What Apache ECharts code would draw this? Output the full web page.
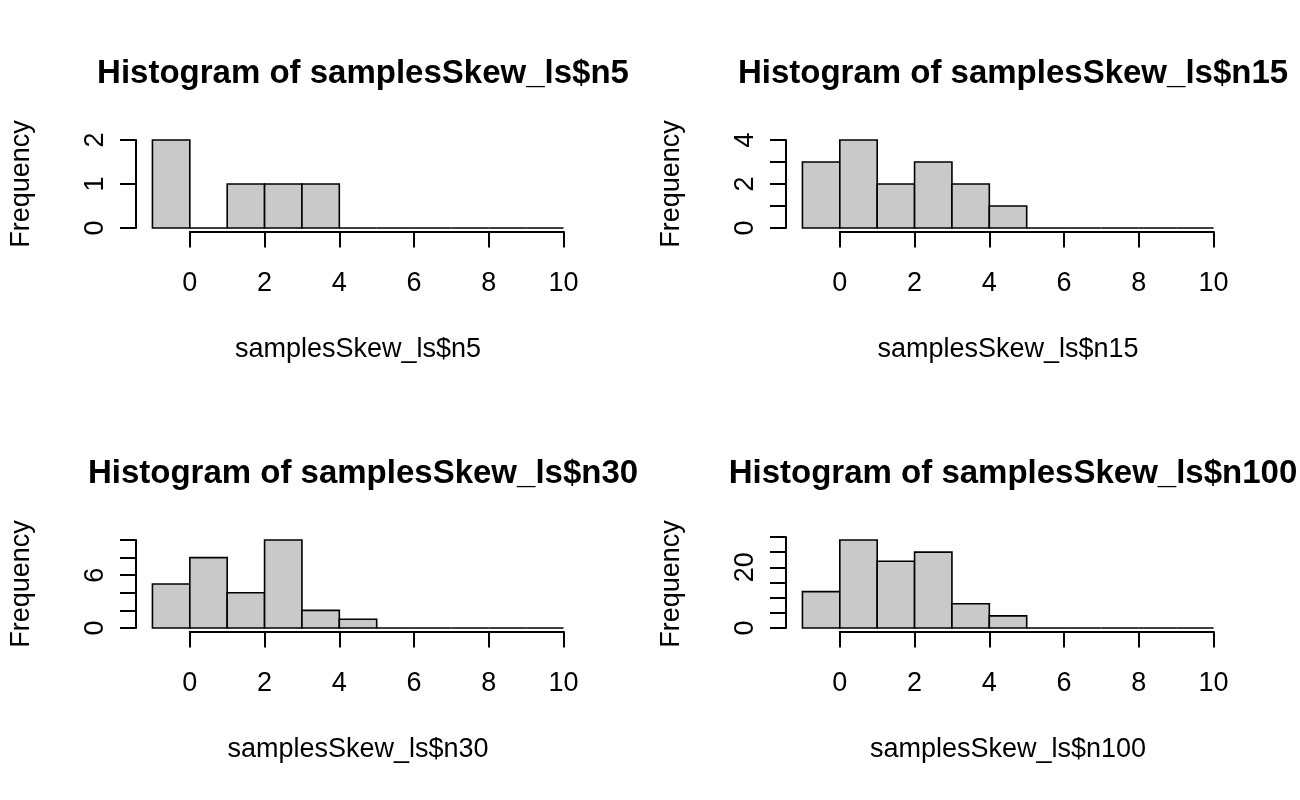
<!DOCTYPE html>
<html>
<head>
    <meta charset="utf-8">
    <title>Histograms of samplesSkew_ls</title>
    <script src="https://cdn.jsdelivr.net/npm/echarts@6/dist/echarts.min.js"></script>
    <style>
        html, body { margin: 0; background: #fff; }
        #main { width: 1300px; height: 800px; }
    </style>
</head>
<body>
<div id="main"></div>
<script type="text/javascript">
    // bin edges shared by all four histograms
    var breaks = [-1, 0, 1, 2, 3, 4, 5, 6, 7, 8, 9, 10];

    // counts per bin
    var countsN5   = [2, 0, 1, 1, 1, 0, 0, 0, 0, 0, 0];
    var countsN15  = [3, 4, 2, 3, 2, 1, 0, 0, 0, 0, 0];
    var countsN30  = [5, 8, 4, 10, 2, 1, 0, 0, 0, 0, 0];
    var countsN100 = [12, 29, 22, 25, 8, 4, 0, 0, 0, 0, 0];

    // x axis ticks
    var xTickMin = 0, xTickMax = 10, xTickStep = 2;

    // y axis ticks and which labels R kept
    var yTicksN5   = { max: 2,  step: 1, shown: [0, 1, 2] };
    var yTicksN15  = { max: 4,  step: 1, shown: [0, 2, 4] };
    var yTicksN30  = { max: 10, step: 2, shown: [0, 6] };
    var yTicksN100 = { max: 30, step: 5, shown: [0, 20] };

    var names = ['samplesSkew_ls$n5', 'samplesSkew_ls$n15', 'samplesSkew_ls$n30', 'samplesSkew_ls$n100'];

    var panels = [
        { name: names[0], counts: countsN5,   yt: yTicksN5,   ox: 0,   oy: 0 },
        { name: names[1], counts: countsN15,  yt: yTicksN15,  ox: 650, oy: 0 },
        { name: names[2], counts: countsN30,  yt: yTicksN30,  ox: 0,   oy: 400 },
        { name: names[3], counts: countsN100, yt: yTicksN100, ox: 650, oy: 400 }
    ];

    var FONT = "'Liberation Sans', Arial, Helvetica, sans-serif";
    var PLOT_L = 136, PLOT_T = 136.5, PLOT_W = 444, PLOT_H = 95;

    var grids = [], xAxes = [], yAxes = [], series = [], titles = [], texts = [];

    panels.forEach(function (p) {
        var xmin = breaks[0], xmax = breaks[breaks.length - 1];
        var xpad = (xmax - xmin) * 0.04;
        var ymax = Math.max.apply(null, p.counts);
        var ypad = ymax * 0.04;
        var pxX = PLOT_W / (xmax - xmin + 2 * xpad);
        var pxY = PLOT_H / (ymax + 2 * ypad);
        var left = p.ox + PLOT_L, top = p.oy + PLOT_T;
        var zeroY = top + PLOT_H - ypad * pxY;

        // data grid
        var gi = grids.length;
        grids.push({ left: left, top: top, width: PLOT_W, height: PLOT_H });
        xAxes.push({ gridIndex: gi, type: 'value', min: xmin - xpad, max: xmax + xpad, show: false });
        yAxes.push({ gridIndex: gi, type: 'value', min: -ypad, max: ymax + ypad, show: false });

        var data = p.counts.map(function (c, i) { return [breaks[i], breaks[i + 1], c]; });
        series.push({
            type: 'custom',
            xAxisIndex: xAxes.length - 1,
            yAxisIndex: yAxes.length - 1,
            data: data,
            silent: true,
            renderItem: function (params, api) {
                var a = api.coord([api.value(0), api.value(2)]);
                var b = api.coord([api.value(1), 0]);
                return {
                    type: 'rect',
                    shape: { x: a[0], y: a[1], width: b[0] - a[0], height: b[1] - a[1] },
                    style: { fill: '#c9c9c9', stroke: '#000', lineWidth: 1.6 }
                };
            }
        });

        // x axis drawn from first to last tick, at the bottom of the plot region
        var gx = grids.length;
        grids.push({
            left: left + (xTickMin - (xmin - xpad)) * pxX,
            top: top,
            width: (xTickMax - xTickMin) * pxX,
            height: PLOT_H
        });
        xAxes.push({
            gridIndex: gx, type: 'value', min: xTickMin, max: xTickMax, interval: xTickStep,
            axisLine: { show: true, onZero: false, lineStyle: { color: '#000', width: 2 } },
            axisTick: { show: true, inside: false, length: 16, lineStyle: { color: '#000', width: 2 } },
            axisLabel: { margin: 39, fontFamily: FONT, fontSize: 27, color: '#000' },
            splitLine: { show: false }
        });
        yAxes.push({ gridIndex: gx, type: 'value', show: false });

        // y axis drawn from 0 to last tick, at the left of the plot region
        var gy = grids.length;
        var yTop = zeroY - p.yt.max * pxY;
        grids.push({ left: left, top: yTop, width: PLOT_W, height: zeroY - yTop });
        xAxes.push({ gridIndex: gy, type: 'value', show: false });
        var shown = p.yt.shown;
        yAxes.push({
            gridIndex: gy, type: 'value', min: 0, max: p.yt.max, interval: p.yt.step,
            axisLine: { show: true, lineStyle: { color: '#000', width: 2 } },
            axisTick: { show: true, inside: false, length: 16, lineStyle: { color: '#000', width: 2 } },
            axisLabel: {
                margin: 27, rotate: 90, fontFamily: FONT, fontSize: 27, color: '#000',
                formatter: function (v) { return shown.indexOf(v) >= 0 ? String(v) : ''; }
            },
            splitLine: { show: false }
        });

        titles.push({
            text: 'Histogram of ' + p.name,
            left: left + PLOT_W / 2, top: p.oy + 52,
            textAlign: 'center',
            textStyle: { fontFamily: FONT, fontSize: 33, fontWeight: 'bold', color: '#000' }
        });

        // x axis title, centred under the plot region
        texts.push({
            type: 'text',
            x: left + PLOT_W / 2, y: p.oy + 350,
            style: {
                text: p.name, fontFamily: FONT, fontSize: 27, fill: '#000',
                align: 'center', verticalAlign: 'middle'
            }
        });

        // y axis title
        texts.push({
            type: 'text',
            x: p.ox + 22, y: top + PLOT_H / 2,
            rotation: Math.PI / 2,
            style: {
                text: 'Frequency', fontFamily: FONT, fontSize: 27, fill: '#000',
                align: 'center', verticalAlign: 'middle'
            }
        });
    });

    var chart = echarts.init(document.getElementById('main'), null, { renderer: 'canvas' });
    chart.setOption({
        backgroundColor: '#fff',
        animation: false,
        title: titles,
        grid: grids,
        xAxis: xAxes,
        yAxis: yAxes,
        series: series,
        graphic: texts
    });
</script>
</body>
</html>
